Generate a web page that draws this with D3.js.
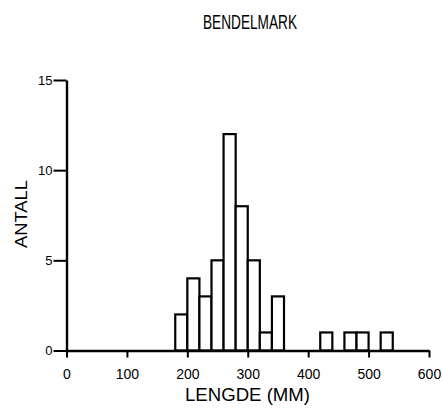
<!DOCTYPE html>
<html>
<head>
<meta charset="utf-8">
<script src="https://cdn.jsdelivr.net/npm/d3@7"></script>
<style>
  html, body { margin: 0; padding: 0; background: #fff; }
  svg { display: block; font-family: Arial, "Liberation Sans", sans-serif; }
</style>
</head>
<body>
<svg id="chart" width="443" height="408"></svg>
<script>
// Data (bin width 20 mm)
const binStarts = [180, 200, 220, 240, 260, 280, 300, 320, 340, 420, 460, 480, 520];
const counts    = [2,   4,   3,   5,   12,  8,   5,   1,   3,   1,   1,   1,   1];
const binWidth = 20;
const xTicks = [0, 100, 200, 300, 400, 500, 600];
const xTickLabels = ["0", "100", "200", "300", "400", "500", "600"];
const yTicks = [0, 5, 10, 15];
const title = "BENDELMARK";
const xTitle = "LENGDE (MM)";
const yTitle = "ANTALL";

const svg = d3.select("#chart");
const x = d3.scaleLinear().domain([0, 600]).range([66.5, 429]);
const y = d3.scaleLinear().domain([0, 15]).range([350.5, 80]);

// Bars
svg.append("g").selectAll("rect")
  .data(binStarts.map((s, i) => ({ s, c: counts[i] })))
  .join("rect")
  .attr("x", d => x(d.s))
  .attr("width", d => x(d.s + binWidth) - x(d.s))
  .attr("y", d => y(d.c))
  .attr("height", d => y(0) - y(d.c))
  .attr("fill", "#fff")
  .attr("stroke", "#000")
  .attr("stroke-width", 2.2);

// X axis
const xAxis = d3.axisBottom(x)
  .tickValues(xTicks)
  .tickFormat((d, i) => xTickLabels[i])
  .tickSizeInner(7)
  .tickSizeOuter(0)
  .tickPadding(12);
const gx = svg.append("g").attr("transform", `translate(0,${y(0)})`).call(xAxis);
gx.select(".domain").attr("stroke-width", 2.4);
gx.selectAll(".tick line").attr("stroke-width", 2);
gx.selectAll(".tick text").attr("font-size", 14).attr("fill", "#000")
  .attr("font-family", "Arial, 'Liberation Sans', sans-serif");

// Y axis
const yAxis = d3.axisLeft(y)
  .tickValues(yTicks)
  .tickSizeInner(13)
  .tickSizeOuter(0)
  .tickPadding(1);
const gy = svg.append("g").attr("transform", `translate(${x(0)},0)`).call(yAxis);
gy.select(".domain").attr("stroke-width", 2.4);
gy.selectAll(".tick line").attr("stroke-width", 2);
gy.selectAll(".tick text").attr("font-size", 13).attr("fill", "#000")
  .attr("font-family", "Arial, 'Liberation Sans', sans-serif");

// Title
svg.append("text")
  .attr("x", 250).attr("y", 29)
  .attr("text-anchor", "middle")
  .attr("font-size", 21)
  .attr("textLength", 94)
  .attr("lengthAdjust", "spacingAndGlyphs")
  .text(title);

// X axis title
svg.append("text")
  .attr("x", 247.5).attr("y", 401)
  .attr("text-anchor", "middle")
  .attr("font-size", 18)
  .attr("textLength", 125)
  .attr("lengthAdjust", "spacingAndGlyphs")
  .text(xTitle);

// Y axis title
svg.append("text")
  .attr("transform", "translate(27,214) rotate(-90)")
  .attr("text-anchor", "middle")
  .attr("font-size", 17)
  .attr("textLength", 68)
  .attr("lengthAdjust", "spacingAndGlyphs")
  .text(yTitle);
</script>
</body>
</html>
